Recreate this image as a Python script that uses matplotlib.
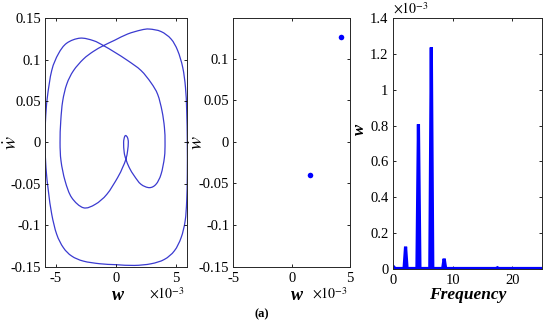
import numpy as np
import matplotlib
matplotlib.use("Agg")
import matplotlib.pyplot as plt
from matplotlib.path import Path
from matplotlib.patches import PathPatch

plt.rcParams['font.family'] = ['Liberation Serif', 'DejaVu Serif']
plt.rcParams['mathtext.fontset'] = 'stix'

# ---- Panel 1: phase portrait (w in 1e-3, wdot) ----
w_orbit = [-5.89, -5.85, -5.70, -5.33, -4.78, -4.08, -2.98, -1.87, -1.03, -0.10,
           0.97, 2.08, 2.92, 3.47, 3.83, 4.03, 4.08, 4.03, 3.75, 3.33,
           2.78, 2.08, 1.53, 1.11, 0.83, 0.69, 0.64, 0.72, 0.83, 0.97,
           1.03, 0.97, 0.83, 0.55, 0.14, -0.75, -1.71, -2.70, -3.67, -4.22,
           -4.56, -4.64, -4.58, -4.42, -4.08, -3.53, -2.70, -1.87, -1.03, -0.10,
           0.97, 2.08, 2.78, 3.75, 4.58, 5.13, 5.55, 5.78, 5.88, 5.93,
           5.93, 5.88, 5.75, 5.42, 4.86, 4.03, 2.92, 1.53, 0.00, -1.31,
           -2.70, -3.67, -4.36, -4.92, -5.33, -5.61, -5.81]
wd_orbit = [0.000, 0.026, 0.054, 0.087, 0.107, 0.120, 0.126, 0.123, 0.117, 0.109,
            0.099, 0.087, 0.072, 0.058, 0.038, 0.018, 0.000, -0.018, -0.0385, -0.0506,
            -0.0547, -0.0506, -0.0406, -0.0305, -0.0203, -0.0123, 0.000, 0.0068, 0.0082, 0.0055,
            0.000, -0.0103, -0.0203, -0.0305, -0.0426, -0.0627, -0.0748, -0.079, -0.0668, -0.0466,
            -0.0224, 0.000, 0.026, 0.050, 0.0705, 0.0866, 0.1007, 0.110, 0.117, 0.1235,
            0.131, 0.1358, 0.137, 0.134, 0.125, 0.111, 0.0906, 0.0663, 0.038, 0.000,
            -0.0385, -0.0708, -0.095, -0.115, -0.131, -0.1414, -0.1467, -0.1487, -0.1478, -0.1467,
            -0.1435, -0.1374, -0.1273, -0.111, -0.0869, -0.0587, -0.0305]

# ---- Panel 2: Poincare section points ----
w_poinc = [4.26, 1.57]
wd_poinc = [0.127, -0.040]

# ---- Panel 3: spectrum (amplitude in 1e-3) ----
freq = [0.0, 0.4, 1.9, 2.15, 2.4, 4.05, 4.3, 4.55, 6.2, 6.45, 6.7, 8.35, 8.6, 8.85, 17.3, 17.5, 17.7, 25.0]
amp = [0.015, 0.0, 0.0, 0.122, 0.0, 0.0, 0.807, 0.0, 0.0, 1.237, 0.0, 0.0, 0.055, 0.0, 0.0, 0.004, 0.0, 0.0]

ytick_phase = [-0.15, -0.1, -0.05, 0, 0.05, 0.1, 0.15]
ytick_phase_lbl = ['-0.15', '-0.1', '-0.05', '0', '0.05', '0.1', '0.15']
xtick_phase = [-5, 0, 5]
xtick_phase_lbl = ['-5', '0', '5']
ytick_spec = [0, 0.2, 0.4, 0.6, 0.8, 1.0, 1.2, 1.4]
ytick_spec_lbl = ['0', '0.2', '0.4', '0.6', '0.8', '1', '1.2', '1.4']
xtick_spec = [0, 10, 20]


def closed_smooth_path(xs, ys):
    pts = np.column_stack([xs, ys]).astype(float)
    n = len(pts)
    verts = [pts[0]]
    codes = [Path.MOVETO]
    for i in range(n):
        p0 = pts[i - 1]
        p1 = pts[i]
        p2 = pts[(i + 1) % n]
        p3 = pts[(i + 2) % n]
        verts += [p1 + (p2 - p0) / 6.0, p2 - (p3 - p1) / 6.0, p2]
        codes += [Path.CURVE4] * 3
    return Path(verts, codes)


TICK_FS = 10.5
edge = '#262626'
W, H = 550.0, 322.0


def fx(px):
    return px / W


def fy(py):
    return 1 - py / H


def style(ax):
    ax.tick_params(direction='in', length=2.5, width=0.6, top=True, right=True,
                   labelsize=TICK_FS, colors='black', pad=3)
    ax.tick_params(axis='x', pad=4)
    for s in ax.spines.values():
        s.set_color(edge)
        s.set_linewidth(0.7)


fig = plt.figure(figsize=(5.5, 3.22), dpi=100)
fig.patch.set_facecolor('white')

# Panel 1
ax1 = fig.add_axes([fx(45), fy(266.5), 142.3 / W, (266.5 - 18.3) / H])
ax1.add_patch(PathPatch(closed_smooth_path(w_orbit, wd_orbit), facecolor='none',
                        edgecolor='#3a3ad0', linewidth=0.9))
ax1.set_xlim(min(w_orbit), max(w_orbit))
ax1.set_ylim(-0.15, 0.15)
ax1.set_xticks(xtick_phase, xtick_phase_lbl)
ax1.set_yticks(ytick_phase, ytick_phase_lbl)
style(ax1)
fig.text(fx(12), fy(143), r'$\dot{w}$', fontsize=14, rotation=90, ha='center', va='center')
fig.text(fx(118), fy(296), 'w', fontsize=13, fontweight='bold', style='italic',
         ha='center', va='center')
fig.text(fx(149), fy(294), r'$\times10^{-3}$', fontsize=10, ha='left', va='center')

# Panel 2
ax2 = fig.add_axes([fx(233.3), fy(266.5), 116.7 / W, (266.5 - 18.3) / H])
ax2.plot(w_poinc, wd_poinc, 'o', color='#0000ff', markersize=4, markeredgewidth=0)
ax2.set_xlim(-5, 5)
ax2.set_ylim(-0.15, 0.149)
ax2.set_xticks(xtick_phase, xtick_phase_lbl)
ax2.set_yticks(ytick_phase[:-1], ytick_phase_lbl[:-1])
style(ax2)
fig.text(fx(198), fy(143), r'$\dot{w}$', fontsize=14, rotation=90, ha='center', va='center')
fig.text(fx(297), fy(296), 'w', fontsize=13, fontweight='bold', style='italic',
         ha='center', va='center')
fig.text(fx(312), fy(294), r'$\times10^{-3}$', fontsize=10, ha='left', va='center')

# Panel 3
ax3 = fig.add_axes([fx(392.7), fy(268.5), 149.6 / W, (268.5 - 18.3) / H])
ax3.plot(freq, amp, color='#0000ff', linewidth=2.3, solid_joinstyle='miter')
ax3.set_xlim(0, 25)
ax3.set_ylim(0, 1.4)
ax3.set_xticks(xtick_spec, [str(v) for v in xtick_spec])
ax3.set_yticks(ytick_spec, ytick_spec_lbl)
style(ax3)
fig.text(fx(360), fy(129), 'w', fontsize=12, fontweight='bold', style='italic',
         rotation=90, ha='center', va='center')
ax3.set_xlabel('Frequency', fontsize=12.5, fontweight='bold', style='italic', labelpad=0)
fig.text(fx(393), fy(9), r'$\times10^{-3}$', fontsize=10, ha='left', va='center')

fig.text(fx(262), fy(314), '(a)', fontsize=9, fontweight='bold', ha='center', va='center')

fig.savefig('out.png', dpi=100)
